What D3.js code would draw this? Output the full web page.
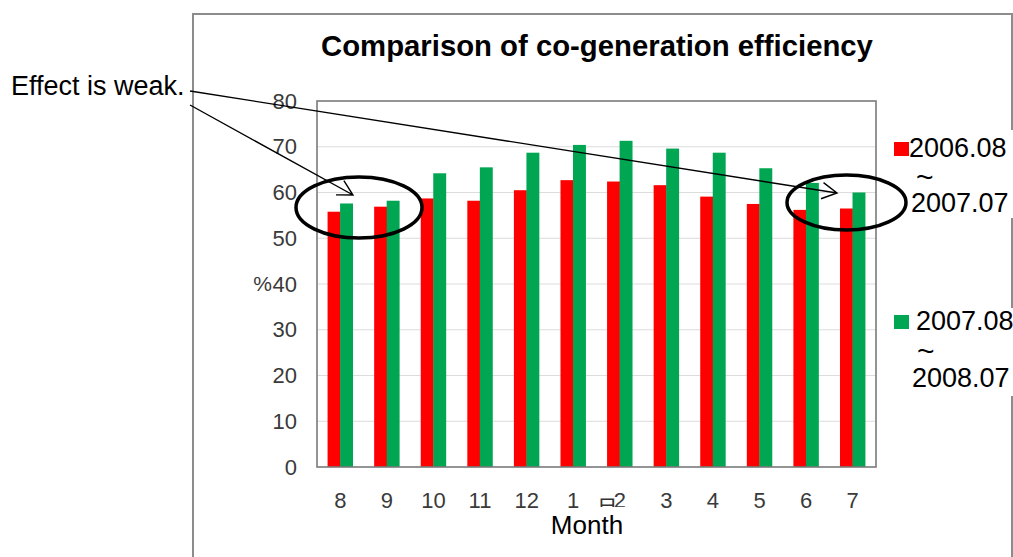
<!DOCTYPE html>
<html>
<head>
<meta charset="utf-8">
<script src="https://cdn.jsdelivr.net/npm/d3@7"></script>
<style>
  html, body { margin: 0; padding: 0; background: #fff; }
  svg { display: block; font-family: "Liberation Sans", Arial, sans-serif; }
</style>
</head>
<body>
<svg id="chart" width="1013" height="557"></svg>
<script>
// Monthly co-generation efficiency (%), fiscal year starting in August
const months = ["8", "9", "10", "11", "12", "1", "2", "3", "4", "5", "6", "7"];
const seriesNames = ["2006.08～2007.07", "2007.08～2008.07"];
const eff2006 = [55.8, 56.9, 58.7, 58.2, 60.5, 62.7, 62.4, 61.6, 59.1, 57.5, 56.2, 56.5];
const eff2007 = [57.6, 58.2, 64.2, 65.5, 68.7, 70.4, 71.3, 69.6, 68.7, 65.3, 62.1, 60.0];
const yTicks = [0, 10, 20, 30, 40, 50, 60, 70, 80];
const seriesColors = ["#ff0000", "#00a651"];

const svg = d3.select("#chart");

// outer chart frame
svg.append("rect").attr("x", 193).attr("y", 14).attr("width", 819).attr("height", 560)
  .attr("fill", "#fff").attr("stroke", "#8c8c8c").attr("stroke-width", 2);

// plot area
const plot = { left: 317, right: 876, top: 101, bottom: 467 };

const x0 = d3.scaleBand().domain(months).range([plot.left, plot.right]).padding(0);
const x1 = d3.scaleBand().domain([0, 1]).range([0, x0.bandwidth()])
  .paddingInner(0).paddingOuter(0.86);
const y = d3.scaleLinear().domain([0, 80]).range([plot.bottom, plot.top]);

// gridlines
svg.append("g").selectAll("line").data(yTicks.filter(d => d > 0 && d < 80)).join("line")
  .attr("x1", plot.left).attr("x2", plot.right)
  .attr("y1", d => y(d)).attr("y2", d => y(d))
  .attr("stroke", "#dcdcdc").attr("stroke-width", 1);

// bars
const rows = months.map((m, i) => ({ m, vals: [eff2006[i], eff2007[i]] }));
svg.append("g").selectAll("g").data(rows).join("g")
  .attr("transform", d => `translate(${x0(d.m)},0)`)
  .selectAll("rect").data(d => d.vals.map((v, s) => ({ v, s }))).join("rect")
  .attr("x", d => x1(d.s) - 0.2)
  .attr("width", x1.bandwidth() + 0.4)
  .attr("y", d => y(d.v))
  .attr("height", d => y(0) - y(d.v))
  .attr("fill", d => seriesColors[d.s]);

// plot area border
svg.append("rect").attr("x", plot.left).attr("y", plot.top)
  .attr("width", plot.right - plot.left).attr("height", plot.bottom - plot.top)
  .attr("fill", "none").attr("stroke", "#7a7a7a").attr("stroke-width", 1.6);

// y axis labels
const yAxis = d3.axisLeft(y).tickValues(yTicks).tickSize(0).tickPadding(20);
const yg = svg.append("g").attr("transform", `translate(${plot.left},0)`).call(yAxis);
yg.select(".domain").remove();
yg.selectAll("text").attr("font-size", 22).attr("fill", "#3a3a3a")
  .attr("font-family", "Liberation Sans, Arial, sans-serif");
svg.append("text").attr("x", 272).attr("y", y(40)).attr("dy", "0.35em")
  .attr("text-anchor", "end").attr("font-size", 21).attr("fill", "#3a3a3a").text("%");

// x axis labels
const xAxis = d3.axisBottom(x0).tickSize(0).tickPadding(25.4);
const xg = svg.append("g").attr("transform", `translate(0,${plot.bottom})`).call(xAxis);
xg.select(".domain").remove();
xg.selectAll("text").attr("font-size", 22).attr("fill", "#3a3a3a")
  .attr("font-family", "Liberation Sans, Arial, sans-serif");

// Japanese axis title partly covered by the English caption box
svg.append("text").attr("x", 607).attr("y", 516).attr("text-anchor", "middle")
  .attr("font-size", 22).attr("fill", "#333")
  .attr("font-family", "Noto Sans CJK JP, sans-serif").text("月");
svg.append("rect").attr("x", 592).attr("y", 507).attr("width", 38).attr("height", 34).attr("fill", "#fff");
svg.append("text").attr("x", 587).attr("y", 534).attr("text-anchor", "middle")
  .attr("font-size", 26).attr("fill", "#000").text("Month");

// title
svg.append("text").attr("x", 597).attr("y", 56).attr("text-anchor", "middle")
  .attr("font-size", 29.3).attr("font-weight", "bold").attr("fill", "#000")
  .text("Comparison of co-generation efficiency");

// legend
const legend = [
  { color: seriesColors[0], top: 130, sq: 142, xs: [909, 916, 911], bs: [157, 187, 212], lines: ["2006.08", "~", "2007.07"] },
  { color: seriesColors[1], top: 308, sq: 315, xs: [916, 917, 912], bs: [330, 361, 387], lines: ["2007.08", "~", "2008.07"] }
];
const lg = svg.append("g").selectAll("g").data(legend).join("g");
lg.append("rect").attr("x", 906).attr("y", d => d.top).attr("width", 107).attr("height", 88).attr("fill", "#fff");
lg.append("rect").attr("x", 894).attr("y", d => d.sq)
  .attr("width", 15).attr("height", 14).attr("fill", d => d.color);
lg.each(function (d) {
  const g = d3.select(this);
  d.lines.forEach((t, k) => {
    g.append("text").attr("x", d.xs[k]).attr("y", d.bs[k])
      .attr("font-size", k === 1 ? 30 : 27).attr("fill", "#000").text(t);
  });
});

// annotation: callout text, arrows and highlight ellipses
svg.append("text").attr("x", 11).attr("y", 95).attr("font-size", 27).attr("fill", "#000")
  .text("Effect is weak.");

const arrows = [
  { from: [190, 91], to: [837, 193] },
  { from: [190, 105], to: [353, 195] }
];
function arrowPath(a) {
  const [xa, ya] = a.from, [xb, yb] = a.to;
  const ang = Math.atan2(yb - ya, xb - xa);
  const len = 17, spread = 0.5;
  const b1 = [xb - len * Math.cos(ang - spread), yb - len * Math.sin(ang - spread)];
  const b2 = [xb - len * Math.cos(ang + spread), yb - len * Math.sin(ang + spread)];
  return `M${xa},${ya}L${xb},${yb}M${b1[0]},${b1[1]}L${xb},${yb}L${b2[0]},${b2[1]}`;
}
svg.append("g").selectAll("path").data(arrows).join("path")
  .attr("d", arrowPath).attr("fill", "none").attr("stroke", "#000").attr("stroke-width", 1.4);

const rings = [
  { cx: 359, cy: 207.5, rx: 63, ry: 30.5 },
  { cx: 846.5, cy: 202.5, rx: 59.5, ry: 27.5 }
];
svg.append("g").selectAll("ellipse").data(rings).join("ellipse")
  .attr("cx", d => d.cx).attr("cy", d => d.cy).attr("rx", d => d.rx).attr("ry", d => d.ry)
  .attr("fill", "none").attr("stroke", "#000").attr("stroke-width", 3.5);
</script>
</body>
</html>
